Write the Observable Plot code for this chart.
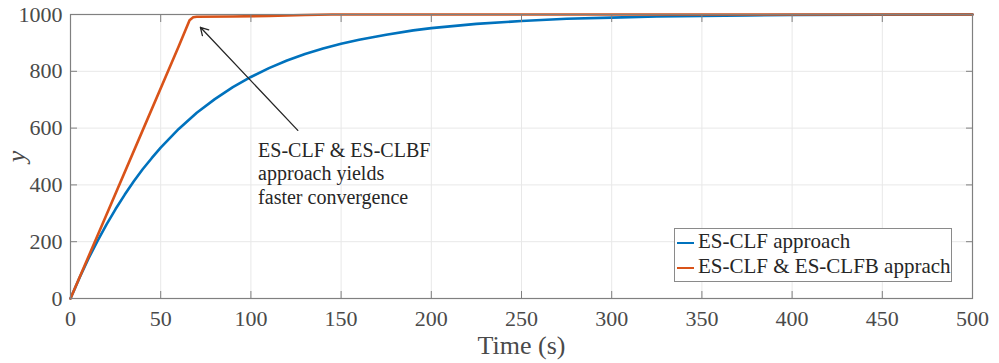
<!DOCTYPE html>
<html><head><meta charset="utf-8">
<script src="https://cdn.jsdelivr.net/npm/d3@7"></script>
<script src="https://cdn.jsdelivr.net/npm/@observablehq/plot@0.6"></script>
<style>
body{margin:0;background:#fff;}
#wrap{position:relative;width:999px;height:363px;}
#wrap svg, #wrap svg text{font-family:"Liberation Serif",serif;}
g[aria-label="x-axis label"] text{font-size:26px;}
g[aria-label="y-axis label"] text{font-size:26px;font-style:italic;}
#legend{position:absolute;left:674px;top:228px;width:278px;height:54px;border:1px solid #8a8a8a;background:#fff;font-family:"Liberation Serif",serif;font-size:21px;color:#262626;box-sizing:border-box;}
#legend .row{position:absolute;left:2px;height:25px;line-height:25px;white-space:nowrap;}
#legend .sw{display:inline-block;width:17px;height:0;border-top:2.5px solid;vertical-align:middle;margin-right:4px;}
</style>
</head><body>
<div id="wrap"></div>
<script>
// Blue series: ES-CLF approach
const tBlue = [0,5,10,15,20,25,30,35,40,45,50,60,70,80,90,100,110,120,130,140,150,160,175,190,200,225,250,275,300,325,350,375,400,450,500];
const yBlue = [0,73,141,203,261,315,365,412,455,494,531,597,654,702,744,780,811,838,861,880,897,911,929,944,952,967,977,985,989,993,995,997,998,999,1000];
// Red series: ES-CLF & ES-CLFB approach
const tRed = [0,20,40,60,66,68,70,90,110,130,145,200,300,400,500];
const yRed = [0,296,592,888,980,990,992,993,995,998,1000,1000,1000,1000,1000];
const xTicks = [0,50,100,150,200,250,300,350,400,450,500];
const yTicks = [0,200,400,600,800,1000];
const seriesNames = ["ES-CLF approach","ES-CLF & ES-CLFB apprach"];
const seriesColors = ["#0072BD","#D95319"];
// Annotation
const arrowFrom = {t:126, y:592};
const arrowTo = {t:72, y:955};
const noteAt = {t:104, y:560};
const noteText = "ES-CLF & ES-CLBF\napproach yields\nfaster convergence";

const blue = tBlue.map((t,i)=>({t, y:yBlue[i]}));
const red = tRed.map((t,i)=>({t, y:yRed[i]}));
const axisColor = "#808080";
const textColor = "#4a4a4a";

const chart = Plot.plot({
  width:999, height:363,
  marginLeft:70, marginRight:27, marginTop:14, marginBottom:65,
  style:{fontFamily:"'Liberation Serif', serif", fontSize:"22px", color:textColor, background:"#fff", overflow:"visible"},
  x:{domain:[0,500]},
  y:{domain:[0,1000]},
  marks:[
    Plot.gridX(xTicks,{stroke:"#e8e8e8", strokeOpacity:1}),
    Plot.gridY(yTicks,{stroke:"#e8e8e8", strokeOpacity:1}),
    Plot.line(blue,{x:"t", y:"y", stroke:seriesColors[0], strokeWidth:2.6}),
    Plot.line(red,{x:"t", y:"y", stroke:seriesColors[1], strokeWidth:2.6}),
    Plot.arrow([{}],{x1:()=>arrowFrom.t, y1:()=>arrowFrom.y, x2:()=>arrowTo.t, y2:()=>arrowTo.y, stroke:"#262626", strokeWidth:1.3, headLength:10}),
    Plot.text([noteText],{x:()=>noteAt.t, y:()=>noteAt.y, text:d=>d, textAnchor:"start", lineAnchor:"top", lineHeight:1.2, fontSize:20, fill:"#262626"}),
    Plot.frame({stroke:axisColor, strokeWidth:1.2}),
    Plot.axisX(xTicks,{anchor:"bottom", tickSize:-7, tickFormat:()=>"", label:null, stroke:axisColor}),
    Plot.axisX(xTicks,{anchor:"top", tickSize:-7, tickFormat:()=>"", label:null, stroke:axisColor}),
    Plot.axisY(yTicks,{anchor:"left", tickSize:-7, tickFormat:()=>"", label:null, stroke:axisColor}),
    Plot.axisY(yTicks,{anchor:"right", tickSize:-7, tickFormat:()=>"", label:null, stroke:axisColor}),
    Plot.axisX(xTicks,{anchor:"bottom", tickSize:0, tickPadding:12, tickFormat:d=>String(d), label:"Time (s)", labelAnchor:"center", labelArrow:"none", labelOffset:55, fill:textColor}),
    Plot.axisY(yTicks,{anchor:"left", tickSize:0, tickPadding:8, tickFormat:d=>String(d), label:"y", labelAnchor:"center", labelArrow:"none", labelOffset:64, fill:textColor})
  ]
});
const wrap = document.getElementById("wrap");
wrap.appendChild(chart);
const lg = document.createElement("div");
lg.id = "legend";
seriesNames.forEach((n,i)=>{
  const r = document.createElement("div");
  r.className = "row";
  r.style.top = (0 + i*25) + "px";
  const sw = document.createElement("span");
  sw.className = "sw"; sw.style.borderTopColor = seriesColors[i];
  r.appendChild(sw);
  r.appendChild(document.createTextNode(n));
  lg.appendChild(r);
});
wrap.appendChild(lg);
</script>
</body></html>
